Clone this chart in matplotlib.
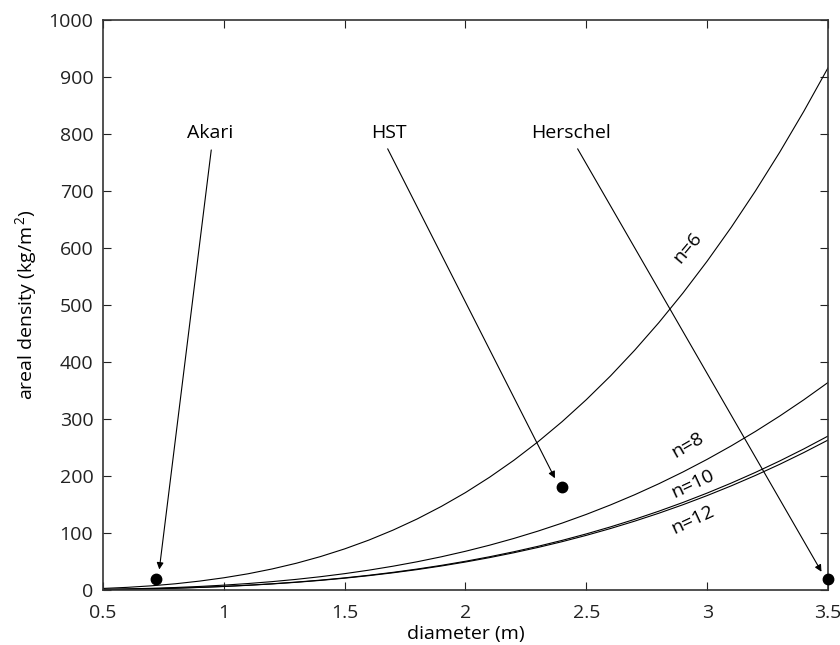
import matplotlib
matplotlib.use('Agg')
import matplotlib.pyplot as plt

plt.rcParams['font.family'] = ['Open Sans', 'DejaVu Sans']
plt.rcParams['mathtext.fontset'] = 'custom'
plt.rcParams['mathtext.rm'] = 'Open Sans'

# diameter (m) sampled along the curves, 0.5 .. 3.5 in 0.1 steps
diameter = [0.5, 0.6, 0.7, 0.8, 0.9, 1.0, 1.1, 1.2, 1.3, 1.4, 1.5, 1.6, 1.7, 1.8, 1.9, 2.0,
            2.1, 2.2, 2.3, 2.4, 2.5, 2.6, 2.7, 2.8, 2.9, 3.0, 3.1, 3.2, 3.3, 3.4, 3.5]

# areal density (kg/m^2) for each n
n6 = [2.7, 4.6, 7.3, 10.9, 15.6, 21.4, 28.4, 36.9, 46.9, 58.6, 72.1, 87.5, 105.0, 124.6,
      146.6, 170.9, 197.9, 227.5, 260.0, 295.4, 333.9, 375.5, 420.6, 469.0, 521.1, 576.9,
      636.5, 700.2, 767.9, 839.8, 916]
n8 = [1.06, 1.83, 2.91, 4.35, 6.19, 8.49, 11.30, 14.67, 18.65, 23.30, 28.65, 34.77, 41.71,
      49.51, 58.23, 67.92, 78.62, 90.40, 103.30, 117.36, 132.65, 149.22, 167.10, 186.37,
      207.06, 229.22, 252.92, 278.19, 305.10, 333.68, 364]
n10 = [0.79, 1.36, 2.16, 3.22, 4.59, 6.30, 8.38, 10.88, 13.84, 17.28, 21.25, 25.79, 30.94,
       36.73, 43.19, 50.38, 58.32, 67.05, 76.62, 87.05, 98.40, 110.68, 123.95, 138.24,
       153.59, 170.03, 187.61, 206.35, 226.31, 247.51, 270]
n12 = [0.77, 1.32, 2.10, 3.14, 4.47, 6.13, 8.16, 10.60, 13.48, 16.83, 20.70, 25.13, 30.14,
       35.77, 42.07, 49.07, 56.81, 65.32, 74.63, 84.80, 95.85, 107.81, 120.74, 134.65,
       149.60, 165.62, 182.74, 201.00, 220.44, 241.10, 263]

# missions: name, diameter, areal density
missions = ['Akari', 'HST', 'Herschel']
mission_d = [0.72, 2.40, 3.50]
mission_rho = [20, 180, 20]

# label text positions and arrow start/end points
label_xy = [(0.943, 802), (1.683, 802), (2.436, 802)]
arrow_from = [(0.948, 772), (1.678, 774), (2.464, 774)]
arrow_to = [(0.733, 36), (2.370, 196), (3.473, 32)]

# curve labels: text, x, y, angle
curve_labels = [('n=6', 2.92, 600, 50), ('n=8', 2.92, 254, 30),
                ('n=10', 2.942, 187, 25), ('n=12', 2.942, 123, 25)]

fig = plt.figure(figsize=(8.4, 6.45), dpi=100)
ax = fig.add_axes([0.1226, 0.0853, 0.8631, 0.8837])

for series in [n6, n8, n10, n12]:
    ax.plot(diameter, series, color='k', lw=0.8)

ax.plot(mission_d, mission_rho, 'o', color='k', markersize=7.5, clip_on=False, zorder=5)

for name, (tx, ty), p0, p1 in zip(missions, label_xy, arrow_from, arrow_to):
    ax.text(tx, ty, name, ha='center', va='center', fontsize=14)
    ax.annotate('', xy=p1, xytext=p0,
                arrowprops=dict(arrowstyle='-|>', color='k', lw=0.8,
                                mutation_scale=10, shrinkA=0, shrinkB=0))

for txt, x, y, ang in curve_labels:
    ax.text(x, y, txt, ha='center', va='center', rotation=ang,
            rotation_mode='anchor', fontsize=14)

ax.set_xlim(0.5, 3.5)
ax.set_ylim(0, 1000)
ax.set_xticks([0.5, 1, 1.5, 2, 2.5, 3, 3.5])
ax.set_xticklabels(['0.5', '1', '1.5', '2', '2.5', '3', '3.5'])
ax.set_yticks(range(0, 1001, 100))
ax.tick_params(direction='in', length=6, width=0.8, top=True, right=True,
               labelsize=14, colors='#222222')
ax.tick_params(axis='x', pad=10)
ax.tick_params(axis='y', pad=7)
for s in ax.spines.values():
    s.set_linewidth(1.2)
    s.set_color('#333333')

ax.set_xlabel('diameter (m)', fontsize=14, labelpad=2)
ax.set_ylabel('areal density (kg/m$^{\\,2}$)', fontsize=14, labelpad=6)

fig.savefig('out.png', dpi=100)
